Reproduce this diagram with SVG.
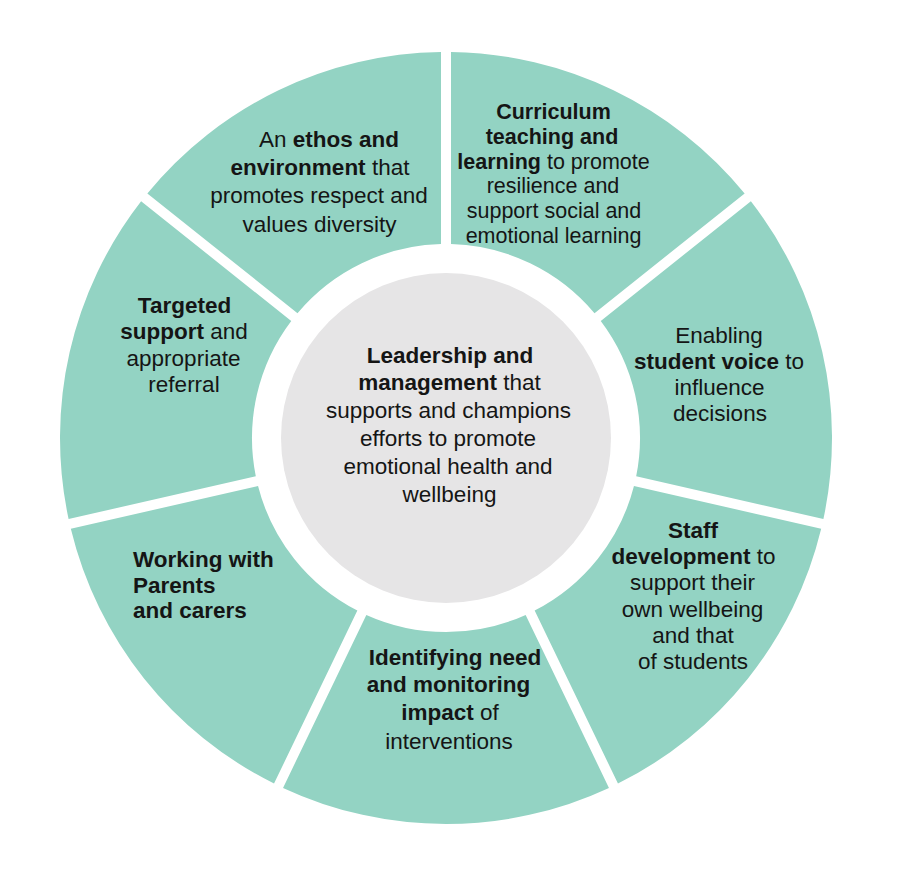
<svg xmlns="http://www.w3.org/2000/svg" width="900" height="888" viewBox="0 0 900 888">
<style>
.seg{fill:#93d3c3}
.hub{fill:#e6e5e6}
text{font-family:"Liberation Sans",Arial,sans-serif;font-size:22.5px;fill:#151515;text-anchor:middle}
.b{font-weight:bold}
.l{text-anchor:start}
.s{font-size:21.5px}
</style>
<rect width="900" height="888" fill="#ffffff"/>
<g id="connectors"></g>
<g id="curriculum">
<path class="seg" d="M451,52.03 A386,386 0 0 1 744.64,193.44 L594.51,313.17 A194,194 0 0 0 451,244.06 Z"/>
<text class="s"><tspan class="b" x="553.5" y="119.3">Curriculum</tspan><tspan class="b" x="552" y="144">teaching and</tspan><tspan x="553.5" y="168.7"><tspan class="b">learning</tspan> to promote</tspan><tspan x="553" y="193.3">resilience and</tspan><tspan x="554" y="218">support social and</tspan><tspan x="553.5" y="242.7">emotional learning</tspan></text>
</g>
<g id="student-voice">
<path class="seg" d="M750.88,201.26 A386,386 0 0 1 823.40,519.02 L636.18,476.28 A194,194 0 0 0 600.75,320.99 Z"/>
<text><tspan x="719" y="343.3">Enabling</tspan><tspan x="719" y="369.3"><tspan class="b">student voice</tspan> to</tspan><tspan x="719.5" y="395">influence</tspan><tspan x="720" y="420.7">decisions</tspan></text>
</g>
<g id="staff">
<path class="seg" d="M821.18,528.76 A386,386 0 0 1 617.97,783.57 L534.65,610.56 A194,194 0 0 0 633.96,486.02 Z"/>
<text><tspan class="b" x="693" y="538.3">Staff</tspan><tspan x="693.5" y="564"><tspan class="b">development</tspan> to</tspan><tspan x="692.5" y="590">support their</tspan><tspan x="692.5" y="616.5">own wellbeing</tspan><tspan x="693" y="643">and that</tspan><tspan x="693" y="669.3">of students</tspan></text>
</g>
<g id="identifying">
<path class="seg" d="M608.97,787.91 A386,386 0 0 1 283.03,787.91 L366.35,614.90 A194,194 0 0 0 525.65,614.90 Z"/>
<text><tspan class="b" x="455" y="665">Identifying need</tspan><tspan class="b" x="448.5" y="692">and monitoring</tspan><tspan x="450" y="719.5"><tspan class="b">impact</tspan> of</tspan><tspan x="449" y="748.5">interventions</tspan></text>
</g>
<g id="parents">
<path class="seg" d="M274.03,783.57 A386,386 0 0 1 70.82,528.76 L258.04,486.02 A194,194 0 0 0 357.35,610.56 Z"/>
<text class="b l"><tspan x="133" y="566.7">Working with</tspan><tspan x="133" y="592.7">Parents</tspan><tspan x="133" y="618.3">and carers</tspan></text>
</g>
<g id="targeted">
<path class="seg" d="M68.60,519.02 A386,386 0 0 1 141.12,201.26 L291.25,320.99 A194,194 0 0 0 255.82,476.28 Z"/>
<text><tspan class="b" x="184.5" y="313.3">Targeted</tspan><tspan x="184" y="339.3"><tspan class="b">support</tspan> and</tspan><tspan x="183.5" y="366">appropriate</tspan><tspan x="184" y="392.3">referral</tspan></text>
</g>
<g id="ethos">
<path class="seg" d="M147.36,193.44 A386,386 0 0 1 441,52.03 L441,244.06 A194,194 0 0 0 297.49,313.17 Z"/>
<text><tspan x="329" y="147.3">An <tspan class="b">ethos and</tspan></tspan><tspan x="320" y="175"><tspan class="b">environment</tspan> that</tspan><tspan x="319" y="203.3">promotes respect and</tspan><tspan x="319.5" y="231.5">values diversity</tspan></text>
</g>
<g id="leadership">
<circle class="hub" cx="446" cy="438" r="165"/>
<text><tspan class="b" x="450" y="362.7">Leadership and</tspan><tspan x="449.5" y="390"><tspan class="b">management</tspan> that</tspan><tspan x="448.5" y="418.3">supports and champions</tspan><tspan x="448" y="446">efforts to promote</tspan><tspan x="448" y="474">emotional health and</tspan><tspan x="449.5" y="501.7">wellbeing</tspan></text>
</g>
</svg>
